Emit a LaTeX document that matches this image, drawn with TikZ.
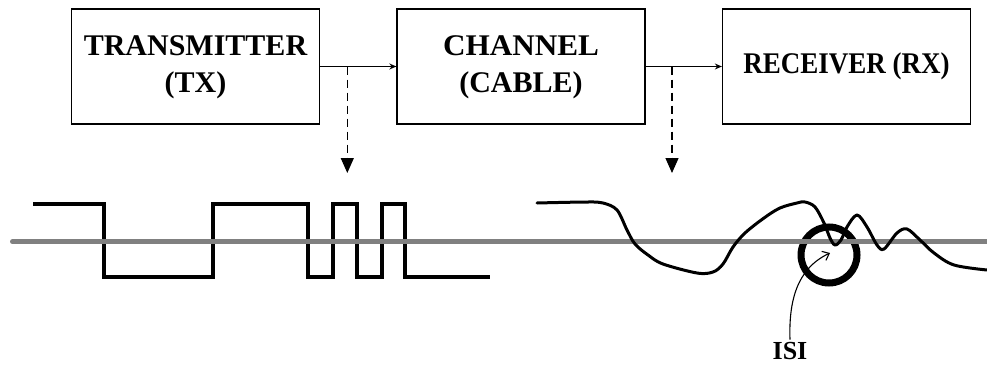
\documentclass[tikz,border=0pt]{standalone}
\usepackage{fontspec}
\setmainfont{Liberation Serif}
\usetikzlibrary{arrows.meta,calc}
\newcommand\twolines[2]{\raisebox{-3pt}{\begin{tabular}{@{}c@{}}#1\\#2\end{tabular}}}
\begin{document}
\begin{tikzpicture}[x=1pt,y=-1pt,
  box/.style={draw, line width=1.3pt, minimum width=248pt, minimum height=115pt,
    align=center, inner sep=0pt, fill=white,
    font=\fontsize{30}{37}\selectfont\bfseries},
  flow/.style={line width=1.2pt, -{Stealth[length=7pt,width=6pt]}},
  probe/.style={line width=1.2pt, dash pattern=on 8pt off 5pt,
    -{Triangle[length=15pt,width=13pt]}},
  refline/.style={line width=5pt, draw={rgb,255:red,128;green,128;blue,128}, line cap=round},
  square/.style={line width=4pt, line join=miter},
  distorted/.style={line width=3pt, line cap=round, line join=round},
  ring/.style={line width=7pt},
  pointer/.style={line width=1.1pt, -{Straight Barb[length=6pt,width=10pt]}},
  isilabel/.style={font=\fontsize{26}{26}\selectfont\bfseries, inner xsep=1pt,
    inner ysep=3pt, text height=17pt, text depth=0pt}
]
\useasboundingbox (0,0) rectangle (987,364);

% blocks
\node[box] (tx) at (195.5,66.5) {\twolines{TRANSMITTER}{(TX)}};
\node[box] (ch) at (521,66.5) {\twolines{\scalebox{1.04}[1]{CHANNEL}}{(CABLE)}};
\node[box] (rx) at (846.5,66.5) {\raisebox{-3pt}{\scalebox{0.9}[1]{RECEIVER (RX)}}};

\draw[flow] (tx.east) -- (ch.west);
\draw[flow] (ch.east) -- (rx.west);

% probe arrows
\coordinate (p1) at (347.3,66.5);
\coordinate (q1) at (347.3,173);
\coordinate (p2) at (672,66.5);
\coordinate (q2) at (672,173);
\draw[probe] (p1) -- (q1);
\draw[probe] (p2) -- (q2);

% transmitted square wave
\draw[square] (33,204) -| (104,277) -| (213,204) -| (308,277) -| (333,204)
  -| (357,277) -| (382,204) -| (405,277) -- (490,277);

% ISI ring
\coordinate (ringc) at (829,255);
\draw[ring] (ringc) circle[radius=28pt];

% reference line
\coordinate (g0) at (12.5,241.7);
\coordinate (g1) at (992,241.7);
\draw[refline] (g0) -- (g1);

% received distorted wave
\draw[distorted] plot[smooth, tension=0.55] coordinates {
  (537,203) (587,202) (603,203) (617,210) (627,230) (635,244) (648,255)
  (663,264) (697,273) (713,272) (723,264) (733,247) (745,233) (764,218)
  (780,208) (797,203) (805,202) (815,207) (824,223) (830,238) (835,245)
  (841,240) (847,227) (857,215) (867,227) (877,245) (884,249) (897,233)
  (907,229) (920,240) (934,253) (954,265) (987,270)};

% ISI label and pointer
\node[isilabel, anchor=south] (isi) at (790,363) {ISI};
\coordinate (isitip) at (830,253);
\draw[pointer] (isi.north) to[out=92,in=205] (isitip);
\end{tikzpicture}
\end{document}
